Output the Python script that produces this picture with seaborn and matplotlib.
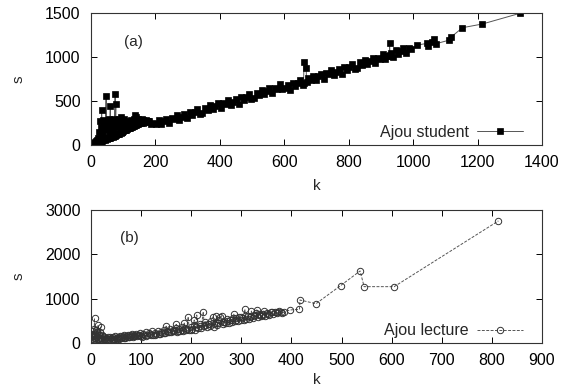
import numpy as np
import pandas as pd
import seaborn as sns
import matplotlib
matplotlib.use("Agg")
import matplotlib.pyplot as plt

# ---------------- data: panel (a) Ajou student ----------------
student_k = [0, 2, 4, 5, 7, 9, 10, 12, 14, 15, 17, 19, 20, 22, 24, 25, 27, 28, 30, 30,
             32, 33, 35, 35, 37, 38, 40, 42, 43, 45, 47, 47, 48, 50, 52, 53, 55, 57, 58, 60,
             60, 62, 63, 65, 67, 68, 70, 72, 73, 75, 75, 77, 77, 78, 80, 82, 83, 85, 87, 88,
             90, 92, 93, 95, 95, 97, 98, 100, 102, 103, 105, 107, 108, 110, 112, 113, 115, 117, 118, 120,
             122, 123, 125, 127, 128, 130, 132, 133, 135, 137, 138, 140, 140, 142, 143, 145, 147, 148, 150, 152,
             155, 157, 160, 162, 165, 167, 170, 172, 175, 178, 180,
             186, 194, 202, 210, 218, 226, 234, 242, 250, 258, 266, 274, 282, 290, 298, 306, 314, 322, 330, 338,
             346, 354, 362, 370, 378, 386, 394, 402, 410, 418, 426, 434, 442, 450, 458, 466, 474, 482, 490, 498,
             506, 514, 522, 530, 538, 546, 554, 562, 570, 578, 586, 594, 602, 610, 618, 626, 634, 642, 650, 658,
             660, 661, 668, 669, 674, 682, 690, 698, 706, 714, 722, 730, 738, 746, 754, 762, 770, 778, 786, 794,
             802, 810, 818, 826, 834, 842, 850, 858, 866, 874, 882, 890, 898, 906, 914, 922, 926, 927, 928, 930,
             938, 946, 954, 962, 970, 978, 986, 994,
             1013, 1044, 1046, 1060, 1065, 1070, 1110, 1117, 1153, 1215, 1331]
student_s = [5, 8, 12, 6, 15, 20, 12, 30, 18, 40, 25, 60, 22, 80, 30, 150, 35, 270, 40, 200,
             45, 400, 50, 120, 280, 55, 230, 60, 170, 70, 555, 90, 250, 65, 190, 75, 300, 80, 140, 440,
             85, 220, 90, 260, 95, 180, 100, 300, 105, 580, 110, 470, 200, 115, 280, 120, 230, 125, 300, 130,
             200, 140, 320, 145, 250, 150, 220, 155, 290, 165, 240, 170, 260, 175, 230, 185, 270, 190, 240, 195,
             250, 200, 280, 210, 240, 215, 300, 220, 260, 225, 340, 230, 320, 260, 235, 300, 240, 280, 245, 270,
             250, 290, 255, 280, 260, 275, 262, 285, 268, 275, 272,
             240, 254, 237, 281, 244, 273, 301, 255, 304, 292, 346, 289, 323, 351, 310, 378, 342, 371, 409, 353,
             361, 425, 398, 452, 405, 444, 473, 416, 475, 463, 517, 460, 494, 523, 471, 550, 513, 542, 580, 524,
             532, 596, 570, 623, 577, 615, 644, 587, 646, 634, 688, 632, 652, 681, 630, 709, 673, 702, 741, 685,
             700, 940, 871, 715, 760, 734, 788, 742, 781, 810, 754, 813, 802, 856, 800, 834, 862, 811, 890, 854,
             883, 922, 866, 875, 939, 913, 967, 921, 960, 989, 933, 992, 981, 1035, 979, 1013, 1010, 1155, 1020, 1046,
             995, 1074, 1038, 1067, 1105, 1049, 1098, 1087,
             1136, 1155, 1120, 1170, 1200, 1150, 1190, 1224, 1333, 1375, 1496]

# ---------------- data: panel (b) Ajou lecture ----------------
lecture_k = [1, 1, 2, 3, 3, 4, 5, 6, 7, 7, 8, 9, 10, 11, 12, 13, 14, 15, 16, 17,
             18, 19, 20, 21, 22, 23, 25, 26, 28, 30, 32, 34, 36, 38, 40, 42, 44, 46, 48, 50,
             52, 54, 56, 58, 60, 62, 64, 66, 68, 70, 72, 74, 76, 78, 80, 82, 84, 86, 88, 90,
             92, 94, 96, 98, 100, 103, 106, 109, 112, 115, 118, 121, 124, 127, 130, 133, 136, 139, 142, 145,
             148, 151, 154, 157, 160, 163, 166, 169, 172, 175, 178, 181, 184, 187, 190, 194, 196, 199, 202, 205,
             208, 211, 214, 217, 220, 224, 226, 228, 231, 234, 237, 240, 244, 246, 249, 252, 255, 258, 261, 263,
             266, 269, 272, 275, 278, 281, 284, 287, 290, 293, 296, 299, 302, 305, 307, 310, 313, 316, 320, 323,
             326, 330, 331, 333, 336, 340, 344, 348, 352, 356, 360, 364, 368, 372, 376, 381, 385, 397, 416, 417,
             449, 498, 537, 545, 605, 813]
lecture_s = [30, 180, 90, 260, 40, 150, 320, 70, 557, 200, 110, 300, 60, 255, 130, 80, 406, 180, 100, 240,
             120, 370, 90, 180, 110, 150, 80, 140, 100, 120, 90, 130, 100, 140, 110, 90, 130, 100, 150, 110,
             90, 140, 120, 160, 110, 150, 130, 170, 120, 160, 140, 190, 130, 170, 150, 210, 140, 180, 160, 200,
             150, 190, 170, 220, 160, 200, 180, 240, 170, 220, 200, 260, 190, 230, 210, 280, 200, 250, 230, 300,
             220, 270, 250, 320, 240, 290, 260, 340, 250, 310, 280, 360, 270, 330, 300, 594, 290, 350, 320, 400,
             300, 632, 340, 420, 330, 707, 380, 480, 350, 430, 380, 500, 594, 370, 450, 410, 520, 594, 616, 420,
             480, 440, 540, 460, 510, 470, 560, 490, 530, 500, 580, 510, 560, 520, 760, 540, 600, 550, 620, 570,
             610, 685, 745, 590, 640, 610, 660, 620, 680, 640, 690, 650, 700, 670, 720, 670, 700, 745, 760, 970,
             887, 1294, 1625, 1271, 1271, 2754]
# further vertices of the dense cloud in panel (b)
lecture_k_more = [45, 55, 65, 75, 85, 95, 101, 110, 119, 128, 137, 146, 150, 155, 164, 170, 173, 182, 186, 191,
                  200, 206, 209, 218, 227, 236, 245, 250, 254, 263, 272, 281, 285, 290, 299, 308, 317, 320, 326, 335,
                  344, 345, 353, 362, 371, 379]
lecture_s_more = [80, 100, 110, 130, 150, 170, 130, 150, 170, 190, 210, 230, 380, 240, 260, 420, 280, 300, 450, 320,
                  300, 520, 360, 380, 400, 420, 430, 600, 460, 480, 500, 520, 650, 560, 580, 600, 580, 720, 640, 660,
                  630, 720, 660, 700, 690, 710]

x_ticks_a = [0, 200, 400, 600, 800, 1000, 1200, 1400]
y_ticks_a = [0, 500, 1000, 1500]
x_ticks_b = [0, 100, 200, 300, 400, 500, 600, 700, 800, 900]
y_ticks_b = [0, 1000, 2000, 3000]

df_a = pd.DataFrame({"k": student_k, "s": student_s})
df_b = pd.concat([pd.DataFrame({"k": lecture_k, "s": lecture_s}),
                  pd.DataFrame({"k": lecture_k_more, "s": lecture_s_more})])
df_b = df_b.sort_values("k", kind="stable").reset_index(drop=True)

sns.set_theme(style="ticks")
plt.rcParams["font.family"] = ["Liberation Sans", "DejaVu Sans"]

fig = plt.figure(figsize=(5.71, 3.92), dpi=100)
ax1 = fig.add_axes([91 / 571, 1 - 145 / 392, 451 / 571, 132 / 392])
ax2 = fig.add_axes([91 / 571, 1 - 343 / 392, 451 / 571, 133 / 392])

sns.lineplot(data=df_a, x="k", y="s", ax=ax1, estimator=None, sort=False,
             color="#555555", linewidth=0.7, marker="s", markersize=4.8,
             markerfacecolor="black", markeredgecolor="black", markeredgewidth=0.5,
             label="Ajou student")
sns.lineplot(data=df_b, x="k", y="s", ax=ax2, estimator=None, sort=False,
             color="#555555", linewidth=0.7, linestyle=(0, (3, 1.5)), marker="o",
             markersize=4.6, markerfacecolor="none", markeredgecolor="#333333",
             markeredgewidth=0.7, label="Ajou lecture")

panels = [(ax1, x_ticks_a, y_ticks_a, "(a)", (0.093, 0.78), -0.255, 0.098),
          (ax2, x_ticks_b, y_ticks_b, "(b)", (0.086, 0.79), -0.225, 0.092)]
for ax, xt, yt, tag, tagpos, klab_y, leg_y in panels:
    ax.set_xlim(xt[0], xt[-1])
    ax.set_ylim(yt[0], yt[-1])
    ax.set_xticks(xt)
    ax.set_yticks(yt)
    ax.tick_params(direction="in", length=4, width=0.7, top=True, right=True,
                   labelsize=11.5, pad=7.5, colors="black")
    for sp in ax.spines.values():
        sp.set_visible(True)
        sp.set_linewidth(0.8)
        sp.set_color("#333333")
    ax.set_xlabel("k", fontsize=11)
    ax.set_ylabel("s", fontsize=11)
    ax.xaxis.set_label_coords(0.50, klab_y)
    ax.yaxis.set_label_coords(-0.145, 0.5)
    ax.text(tagpos[0], tagpos[1], tag, transform=ax.transAxes, fontsize=11,
            ha="center", va="center")
    ax.legend(loc="center right", bbox_to_anchor=(0.958, leg_y), frameon=False,
              markerfirst=False, handlelength=2.9, fontsize=11.5, borderpad=0,
              borderaxespad=0, handletextpad=0.5)

fig.savefig("out.png", dpi=100)
